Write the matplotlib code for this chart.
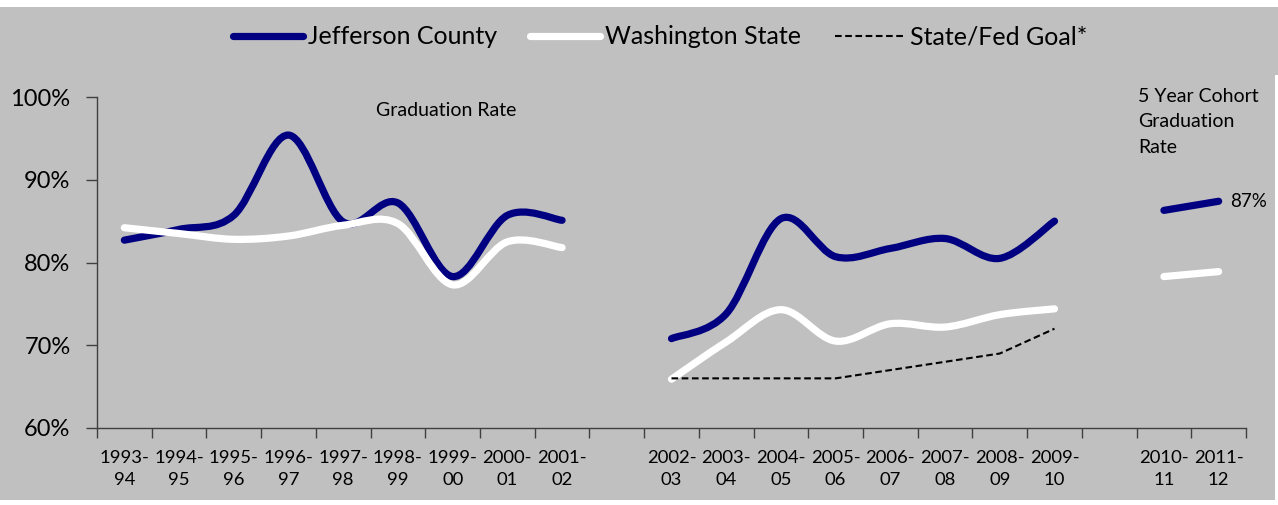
import matplotlib
matplotlib.use("Agg")
import matplotlib.pyplot as plt
from matplotlib.path import Path
from matplotlib.patches import PathPatch, Rectangle
from matplotlib.lines import Line2D
import numpy as np

plt.rcParams['font.family'] = ['Lato', 'DejaVu Sans']

# ---- data ----
categories = ["1993-\n94", "1994-\n95", "1995-\n96", "1996-\n97", "1997-\n98",
              "1998-\n99", "1999-\n00", "2000-\n01", "2001-\n02", "",
              "2002-\n03", "2003-\n04", "2004-\n05", "2005-\n06", "2006-\n07",
              "2007-\n08", "2008-\n09", "2009-\n10", "", "2010-\n11", "2011-\n12"]

# series split into the three segments shown (category index -> value)
jeff_seg1_idx = [0, 1, 2, 3, 4, 5, 6, 7, 8]
jeff_seg1 = [82.7, 84.0, 85.7, 95.4, 84.9, 87.2, 78.3, 85.7, 85.1]
jeff_seg2_idx = [10, 11, 12, 13, 14, 15, 16, 17]
jeff_seg2 = [70.8, 73.8, 85.3, 80.7, 81.7, 82.9, 80.5, 85.0]
jeff_seg3_idx = [19, 20]
jeff_seg3 = [86.3, 87.4]

wa_seg1 = [84.2, 83.5, 82.8, 83.2, 84.5, 84.7, 77.3, 82.5, 81.8]
wa_seg2 = [65.9, 70.4, 74.3, 70.5, 72.6, 72.2, 73.7, 74.4]
wa_seg3 = [78.3, 78.9]

goal_idx = [10, 11, 12, 13, 14, 15, 16, 17]
goal = [66, 66, 66, 66, 67, 68, 69, 72]

yticks = [60, 70, 80, 90, 100]
ytick_labels = ["60%", "70%", "80%", "90%", "100%"]

NAVY = "#000080"
GRAY = "#C0C0C0"
LW = 5.2

W, H = 1278, 505
fig = plt.figure(figsize=(W / 100, H / 100), dpi=100, facecolor="white")
# gray chart area
fig.patches.append(Rectangle((0, 1 - 500 / H), 1275 / W, (500 - 7) / H,
                             transform=fig.transFigure, facecolor=GRAY,
                             edgecolor="none", zorder=-10))
fig.patches.append(Rectangle((1275 / W, 1 - 75 / H), 3 / W, (75 - 7) / H,
                             transform=fig.transFigure, facecolor=GRAY,
                             edgecolor="none", zorder=-10))

ax = fig.add_axes([97 / W, 1 - 428 / H, (1246 - 97) / W, (428 - 97) / H])
ax.set_facecolor("none")
ax.set_zorder(2)


def smooth_path(xs, ys):
    pts = np.column_stack([xs, ys]).astype(float)
    n = len(pts)
    verts = [pts[0]]
    codes = [Path.MOVETO]
    for i in range(n - 1):
        p0 = pts[i - 1] if i > 0 else pts[i]
        p1 = pts[i]
        p2 = pts[i + 1]
        p3 = pts[i + 2] if i + 2 < n else pts[i + 1]
        c1 = p1 + (p2 - p0) / 6.0
        c2 = p2 - (p3 - p1) / 6.0
        verts += [c1, c2, p2]
        codes += [Path.CURVE4] * 3
    return Path(verts, codes)


def draw_smooth(idx, vals, color, lw, z):
    xs = np.array(idx) + 0.5
    p = smooth_path(xs, vals)
    ax.add_patch(PathPatch(p, facecolor="none", edgecolor=color, lw=lw,
                           capstyle="round", joinstyle="round", zorder=z))


for idx, vals in [(jeff_seg1_idx, jeff_seg1), (jeff_seg2_idx, jeff_seg2), (jeff_seg3_idx, jeff_seg3)]:
    draw_smooth(idx, vals, NAVY, LW, 3)
for idx, vals in [(jeff_seg1_idx, wa_seg1), (jeff_seg2_idx, wa_seg2), (jeff_seg3_idx, wa_seg3)]:
    draw_smooth(idx, vals, "white", LW, 4)

ax.plot(np.array(goal_idx) + 0.5, goal, color="black", lw=1.5,
        dashes=(3.2, 1.7), zorder=5)

ax.set_xlim(0, len(categories))
ax.set_ylim(60, 100)

ax.set_yticks(yticks)
ax.set_yticklabels(ytick_labels)
ax.set_xticks(np.arange(0, len(categories) + 1))
ax.set_xticklabels([])
ax.set_xticks(np.arange(len(categories)) + 0.5, minor=True)
ax.set_xticklabels(categories, minor=True)

for s in ["top", "right"]:
    ax.spines[s].set_visible(False)
for s in ["left", "bottom"]:
    ax.spines[s].set_color("#404040")
    ax.spines[s].set_linewidth(1.0)

ax.tick_params(axis="y", which="major", length=8, width=1.0, color="#404040",
               labelsize=17, pad=11, labelcolor="black")
ax.tick_params(axis="x", which="major", length=7, width=1.0, color="#404040")
ax.tick_params(axis="x", which="minor", length=0, labelsize=13.3, pad=16,
               labelcolor="black")
for t in ax.get_xticklabels(minor=True):
    t.set_linespacing(1.45)

ax.text(446 / W, 1 - 110 / H, "Graduation Rate", transform=fig.transFigure,
        ha="center", va="center", fontsize=14)
ax.text(1138 / W, 1 - 88 / H, "5 Year Cohort\nGraduation\nRate",
        transform=fig.transFigure, ha="left", va="top", fontsize=14,
        linespacing=1.6)
ax.annotate("87%", xy=(jeff_seg3_idx[-1] + 0.5, jeff_seg3[-1]),
            xytext=(8, 0), textcoords="offset points", ha="left", va="center",
            fontsize=13.5)

handles = [Line2D([], [], color=NAVY, lw=LW, solid_capstyle="round"),
           Line2D([], [], color="white", lw=LW, solid_capstyle="round"),
           Line2D([], [], color="black", lw=1.5, dashes=(3.2, 1.7))]
fig.legend(handles, ["Jefferson County", "Washington State", "State/Fed Goal*"],
           loc="center", bbox_to_anchor=(660 / W, 1 - 37 / H), ncol=3,
           frameon=False, fontsize=18, handlelength=2.8, handletextpad=0.2,
           columnspacing=1.35)

fig.savefig("out.png", dpi=100, facecolor="white")
